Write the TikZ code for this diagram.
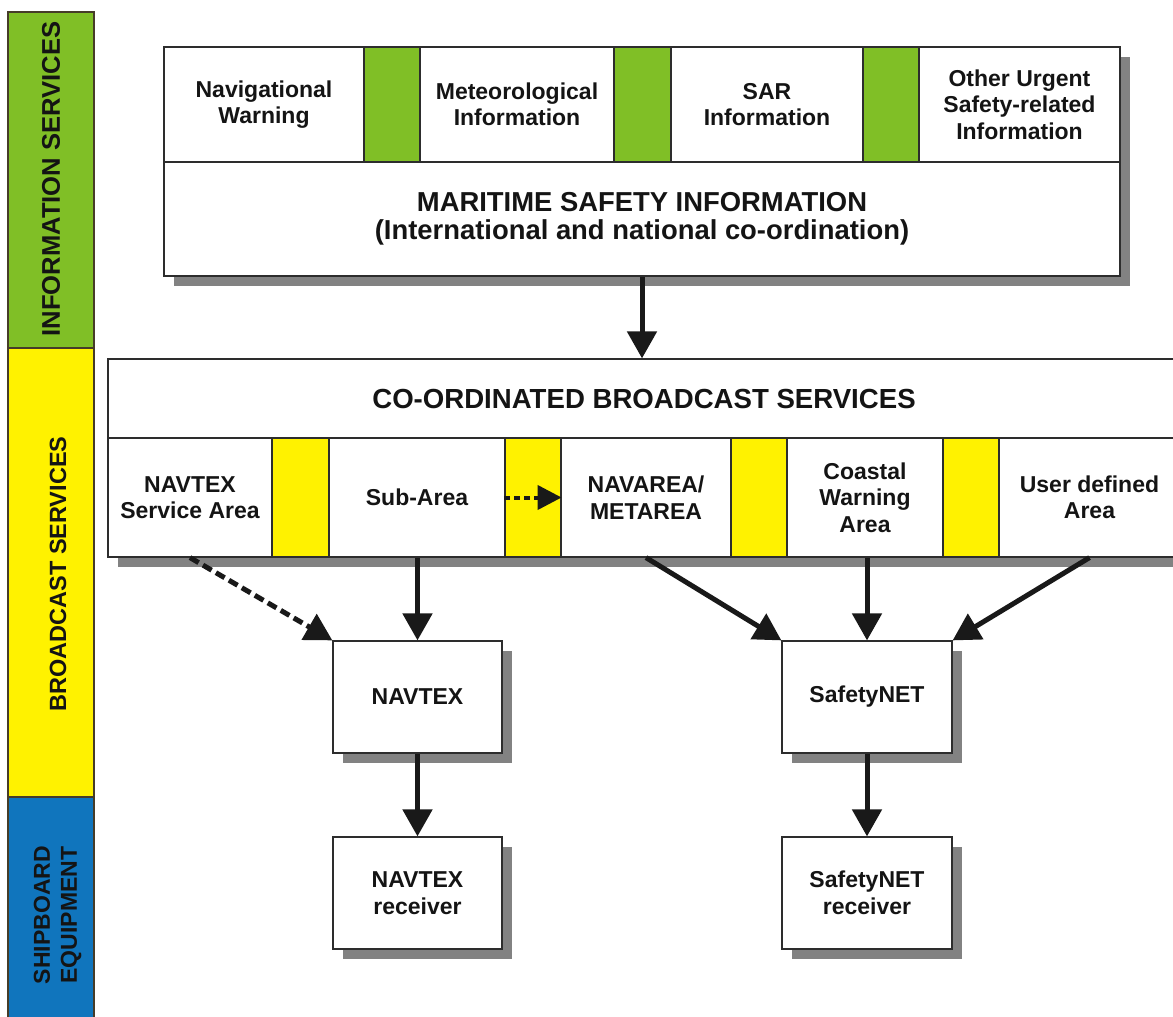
\documentclass[tikz,border=0pt]{standalone}
\usepackage{fontspec}
\setmainfont{Liberation Sans}
\usetikzlibrary{arrows.meta}
\definecolor{mygreen}{RGB}{128,191,38}
\definecolor{myyellow}{RGB}{255,242,0}
\definecolor{myblue}{RGB}{16,117,189}
\definecolor{shadowc}{RGB}{130,130,130}
\definecolor{linec}{RGB}{45,45,45}
\definecolor{sidec}{RGB}{70,60,40}
\definecolor{txt}{RGB}{20,20,20}
\begin{document}
\begin{tikzpicture}[x=1pt,y=-1pt,
  cell/.style={draw=linec,line width=1.2pt,inner sep=0pt,align=center,text=txt,fill=white,
    font=\fontsize{23}{26.5}\selectfont\bfseries},
  gcell/.style={cell,fill=mygreen},
  ycell/.style={cell,fill=myyellow},
  shad/.style={fill=shadowc},
  arr/.style={line width=5pt,draw=black!90,-{Triangle[width=29pt,length=27pt]}},
  darr/.style={arr,dash pattern=on 10pt off 5pt},
  sdarr/.style={line width=4pt,draw=black!90,dash pattern=on 6pt off 4pt,-{Triangle[width=24pt,length=24pt]}},
  sideband/.style={draw=sidec,line width=1.2pt},
  sidetext/.style={rotate=90,text=txt,align=center,inner sep=0pt}
]
\useasboundingbox (0,0) rectangle (1173,1017);
\fill[white] (0,0) rectangle (1173,1017);

% side bands
\filldraw[sideband,fill=mygreen] (8,12) rectangle (94,348);
\filldraw[sideband,fill=myyellow] (8,348) rectangle (94,797);
\filldraw[sideband,fill=myblue] (8,797) rectangle (94,1030);
\node[sidetext,font=\fontsize{25.6}{28}\selectfont\bfseries] (sInfo) at (51,179) {INFORMATION SERVICES};
\node[sidetext,font=\fontsize{23.5}{27}\selectfont\bfseries] (sBroad) at (58,574) {BROADCAST SERVICES};
\node[sidetext,font=\fontsize{23}{27}\selectfont\bfseries] (sShip) at (57.5,915) {SHIPBOARD\\EQUIPMENT};

% shadows
\fill[shad] (174,57) rectangle (1130,286);
\fill[shad] (118,369) rectangle (1190,567);
\fill[shad] (343,651) rectangle (512,763);
\fill[shad] (343,847) rectangle (512,959);
\fill[shad] (792,651) rectangle (962,763);
\fill[shad] (792,847) rectangle (962,959);

% information services box
\node[cell,minimum width=200pt,minimum height=115pt] (navw) at (264,104.5) {Navigational\\Warning};
\node[gcell,minimum width=56pt,minimum height=115pt] (g1) at (392,104.5) {};
\node[cell,minimum width=194pt,minimum height=115pt] (met) at (517,104.5) {Meteorological\\Information};
\node[gcell,minimum width=57pt,minimum height=115pt] (g2) at (642.5,104.5) {};
\node[cell,minimum width=192pt,minimum height=115pt] (sar) at (767,104.5) {SAR\\Information};
\node[gcell,minimum width=56pt,minimum height=115pt] (g3) at (891,104.5) {};
\node[cell,minimum width=201pt,minimum height=115pt] (oth) at (1019.5,104.5) {Other Urgent\\Safety-related\\Information};
\node[cell,minimum width=956pt,minimum height=114pt,font=\fontsize{27.4}{27.5}\selectfont\bfseries] (msi) at (642,219)
  {MARITIME SAFETY INFORMATION\\(International and national co-ordination)};

% broadcast services box
\node[cell,minimum width=1072pt,minimum height=79pt,font=\fontsize{27.6}{30}\selectfont\bfseries] (cbs) at (644,398.5)
  {CO-ORDINATED BROADCAST SERVICES};
\node[cell,minimum width=164pt,minimum height=119pt] (nsa) at (190,497.5) {NAVTEX\\Service Area};
\node[ycell,minimum width=57pt,minimum height=119pt] (y1) at (300.5,497.5) {};
\node[cell,minimum width=176pt,minimum height=119pt] (sub) at (417,497.5) {Sub-Area};
\node[ycell,minimum width=56pt,minimum height=119pt] (y2) at (533,497.5) {};
\node[cell,minimum width=170pt,minimum height=119pt] (nav) at (646,497.5) {NAVAREA/\\METAREA};
\node[ycell,minimum width=56pt,minimum height=119pt] (y3) at (759,497.5) {};
\node[cell,minimum width=156pt,minimum height=119pt] (coast) at (865,497.5) {Coastal\\Warning\\Area};
\node[ycell,minimum width=56pt,minimum height=119pt] (y4) at (971,497.5) {};
\node[cell,minimum width=181pt,minimum height=119pt] (user) at (1089.5,497.5) {User defined\\Area};

% services and receivers
\node[cell,minimum width=169pt,minimum height=112pt] (navtex) at (417.5,697) {NAVTEX};
\node[cell,minimum width=169pt,minimum height=112pt] (navrx) at (417.5,893) {NAVTEX\\receiver};
\node[cell,minimum width=170pt,minimum height=112pt] (snet) at (867,697) {SafetyNET};
\node[cell,minimum width=170pt,minimum height=112pt] (snrx) at (867,893) {SafetyNET\\receiver};

% connectors
\draw[arr] (msi.south) -- (msi.south |- cbs.north);
\draw[sdarr] (y2.west) -- (y2.east);
\draw[darr] (nsa.south) -- (navtex.north west);
\draw[arr] (navtex.north |- sub.south) -- (navtex.north);
\draw[arr] (nav.south) -- (snet.north west);
\draw[arr] (snet.north |- coast.south) -- (snet.north);
\draw[arr] (user.south) -- (snet.north east);
\draw[arr] (navtex.south) -- (navrx.north);
\draw[arr] (snet.south) -- (snrx.north);
\end{tikzpicture}
\end{document}
